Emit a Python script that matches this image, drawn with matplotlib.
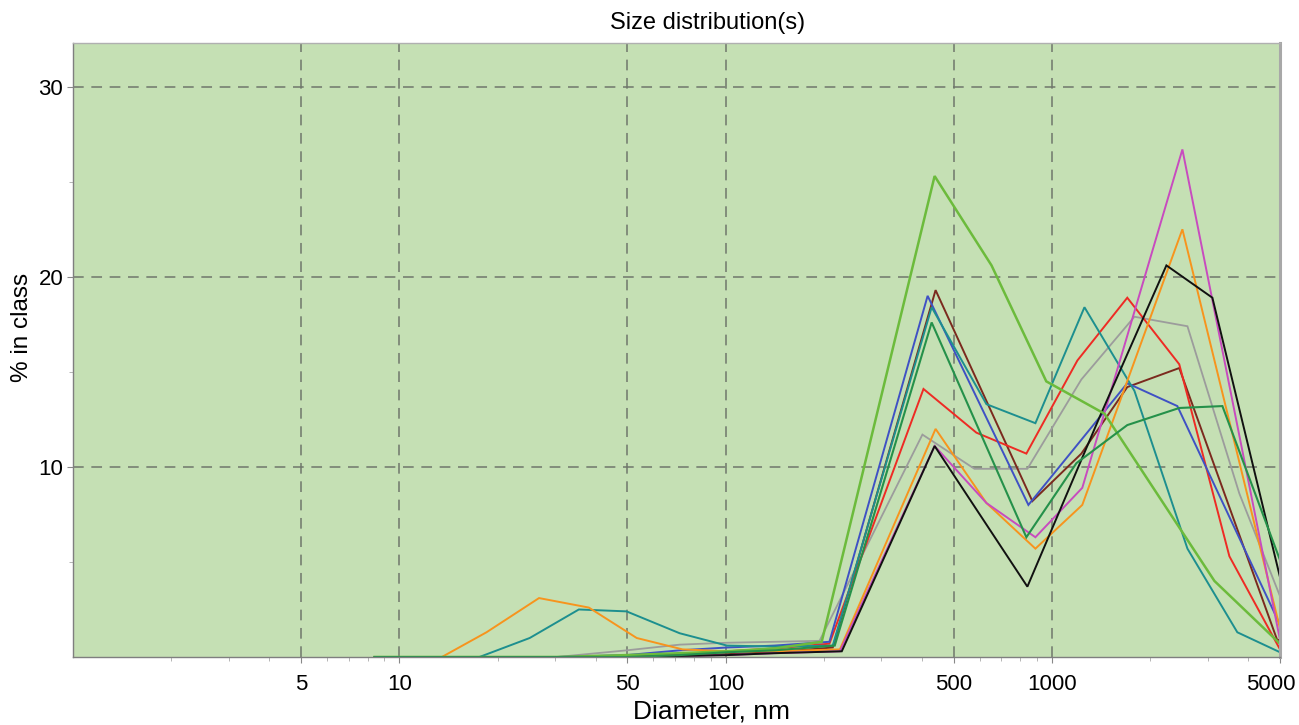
import numpy as np
import matplotlib
matplotlib.use("Agg")
import matplotlib.pyplot as plt
from matplotlib.ticker import FixedLocator, NullFormatter
from matplotlib.transforms import ScaledTranslation

plt.rcParams['font.family'] = ['Liberation Sans', 'DejaVu Sans']

# diameter (nm) and % in class for each measurement
lgreen_x = [8.4, 30.4, 49.7, 72.3, 101, 141, 197, 437, 653, 961, 1449, 3148, 5000]
lgreen_y = [0, 0, 0.1, 0.2, 0.3, 0.45, 0.8, 25.3, 20.6, 14.5, 12.8, 4.0, 0.7]

blue_x = [8.4, 30.4, 49.7, 72.3, 101, 141, 208, 416, 847, 1702, 2423, 5000]
blue_y = [0, 0, 0.1, 0.35, 0.5, 0.6, 0.8, 19.0, 8.0, 14.4, 13.2, 1.7]

brown_x = [8.4, 30.4, 49.7, 72.3, 101, 141, 213, 440, 871, 1231, 1702, 2456, 4900, 5000]
brown_y = [0, 0, 0, 0.05, 0.15, 0.25, 0.5, 19.3, 8.2, 10.7, 14.2, 15.2, 0.9, 0.9]

teal_x = [8.4, 17.6, 25.1, 35.5, 49.7, 72.3, 101, 141, 213, 428, 630, 890, 1258, 1790, 2602, 3700, 5000]
teal_y = [0, 0, 1.0, 2.5, 2.4, 1.25, 0.6, 0.55, 0.6, 18.4, 13.3, 12.3, 18.4, 14.0, 5.7, 1.3, 0.25]

dgreen_x = [8.4, 30.4, 49.7, 72.3, 101, 141, 216, 428, 835, 1189, 1702, 2456, 3330, 5000]
dgreen_y = [0, 0, 0, 0.1, 0.25, 0.35, 0.6, 17.6, 6.3, 10.2, 12.2, 13.1, 13.2, 5.1]

red_x = [8.4, 30.4, 49.7, 72.3, 101, 141, 208, 404, 587, 835, 1197, 1702, 2456, 3498, 5000]
red_y = [0, 0, 0, 0.15, 0.3, 0.45, 0.7, 14.1, 11.8, 10.7, 15.6, 18.9, 15.4, 5.3, 0.4]

gray_x = [8.4, 30.4, 49.7, 72.3, 101, 141, 194, 401, 579, 841, 1231, 1790, 2602, 3753, 5000]
gray_y = [0, 0, 0.35, 0.65, 0.75, 0.8, 0.85, 11.7, 9.9, 9.9, 14.6, 17.9, 17.4, 8.6, 3.2]

orange_x = [8.4, 13.5, 18.5, 26.8, 38.1, 53.4, 73.8, 101, 141, 224, 440, 630, 890, 1239, 2511, 5000]
orange_y = [0, 0, 1.3, 3.1, 2.6, 1.0, 0.4, 0.3, 0.3, 0.4, 12.0, 8.1, 5.7, 8.0, 22.5, 1.5]

magenta_x = [8.4, 30.4, 49.7, 72.3, 101, 141, 224, 437, 630, 890, 1239, 2511, 5000]
magenta_y = [0, 0, 0, 0.05, 0.1, 0.2, 0.3, 11.1, 8.1, 6.3, 8.9, 26.7, 0.9]

black_x = [8.4, 30.4, 49.7, 72.3, 101, 141, 227, 437, 841, 1398, 2243, 3103, 5000]
black_y = [0, 0, 0, 0.05, 0.1, 0.2, 0.3, 11.1, 3.7, 12.6, 20.6, 18.9, 4.2]

series = [
    (gray_x, gray_y, '#9c9c9c', 1.3),
    (brown_x, brown_y, '#7b2a1e', 1.4),
    (red_x, red_y, '#ee2b24', 1.4),
    (blue_x, blue_y, '#3f51c4', 1.4),
    (teal_x, teal_y, '#1d8f8f', 1.4),
    (orange_x, orange_y, '#f7941d', 1.4),
    (magenta_x, magenta_y, '#c84bbf', 1.4),
    (black_x, black_y, '#111111', 1.4),
    (lgreen_x, lgreen_y, '#6cbb3c', 1.8),
    (dgreen_x, dgreen_y, '#25914a', 1.5),
]

fig = plt.figure(figsize=(12.99, 7.25), dpi=100)
ax = fig.add_axes([73 / 1299, 68 / 725, 1207 / 1299, 614 / 725])
ax.set_facecolor('#c5e0b4')

for x, y, c, lw in series:
    ax.plot(x, y, color=c, lw=lw, solid_joinstyle='miter')

ax.set_xscale('log')
ax.set_xlim(1, 5000)
ax.set_ylim(0, 32.3)

xmaj = [5, 10, 50, 100, 500, 1000, 5000]
ax.xaxis.set_major_locator(FixedLocator(xmaj))
ax.set_xticklabels([str(v) for v in xmaj])
xmin = [v * d for d in [1, 10, 100, 1000] for v in range(2, 10)]
ax.xaxis.set_minor_locator(FixedLocator([v for v in xmin if v not in xmaj and v <= 5000]))
ax.xaxis.set_minor_formatter(NullFormatter())

ax.yaxis.set_major_locator(FixedLocator([10, 20, 30]))
ax.yaxis.set_minor_locator(FixedLocator([5, 15, 25]))

ax.tick_params(axis='both', which='major', labelsize=16, length=4, color='#888888', direction='out')
ax.tick_params(axis='x', which='major', pad=8)
ax.tick_params(axis='y', which='major', pad=3)
ax.tick_params(axis='both', which='minor', length=3, color='#aaaaaa', direction='out')

# keep the last x label inside the figure, as in the original
last = ax.get_xticklabels()[-1]
last.set_transform(last.get_transform() + ScaledTranslation(-0.09, 0, fig.dpi_scale_trans))

for v in [5, 10, 50, 100, 500, 1000]:
    ax.axvline(v, color='#6f776b', lw=1.1, dashes=(7, 5), zorder=0.5)
for v in [10, 20, 30]:
    ax.axhline(v, color='#6f776b', lw=1.1, dashes=(7, 5), zorder=0.5)

for s in ['left', 'bottom', 'top']:
    ax.spines[s].set_color('#7f7f7f')
    ax.spines[s].set_linewidth(1.0)
ax.spines['top'].set_color('#b0b0b0')
ax.spines['right'].set_color('#a8a8a8')
ax.spines['right'].set_linewidth(2.2)

fig.text(708 / 1299, 1 - 23 / 725, 'Size distribution(s)', ha='center', va='center', fontsize=17)
fig.text(711 / 1299, 1 - 711 / 725, 'Diameter, nm', ha='center', va='center', fontsize=19)
fig.text(22 / 1299, 1 - 327 / 725, '% in class', ha='center', va='center', rotation=90, fontsize=17.5)

fig.savefig('out.png', dpi=100)
